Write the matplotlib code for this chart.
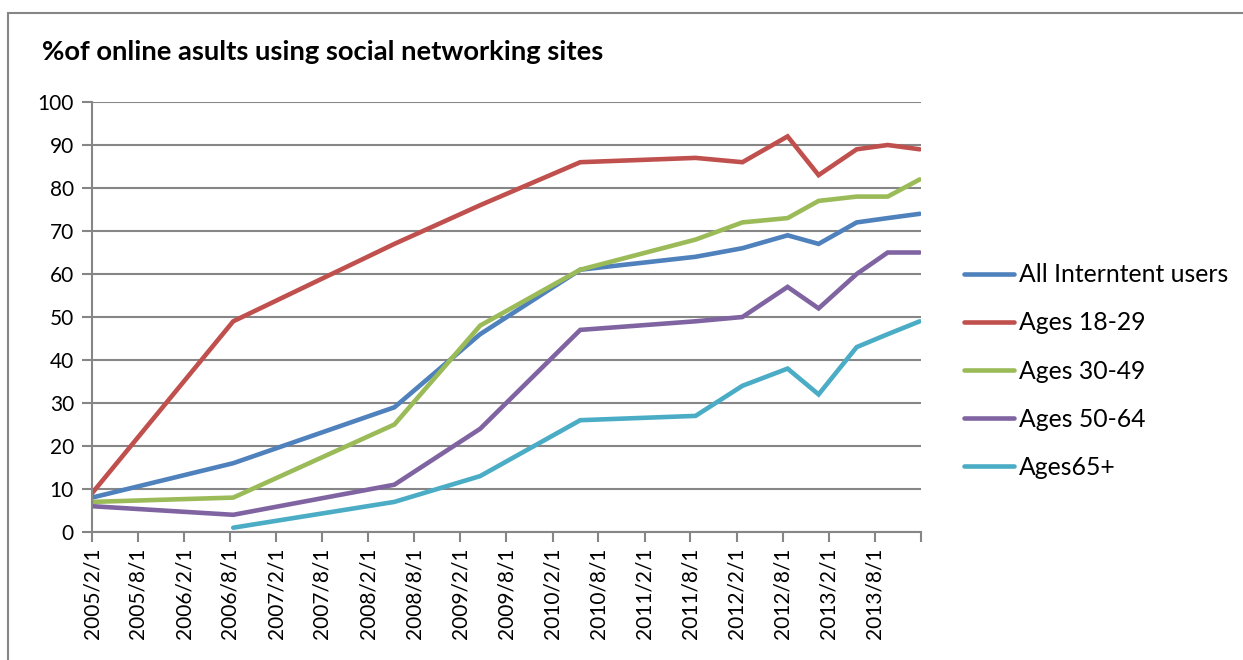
import matplotlib
matplotlib.use("Agg")
import matplotlib.pyplot as plt
import numpy as np
from datetime import date

plt.rcParams['font.family'] = ['Lato', 'DejaVu Sans']

# survey dates and shares (%) of online adults using social networking sites
dates = [date(2005, 2, 1), date(2006, 8, 15), date(2008, 5, 15), date(2009, 4, 20),
         date(2010, 5, 22), date(2011, 8, 22), date(2012, 2, 24), date(2012, 8, 21),
         date(2012, 12, 22), date(2013, 5, 22), date(2013, 9, 22), date(2014, 1, 27)]

all_users = [8, 16, 29, 46, 61, 64, 66, 69, 67, 72, 73, 74]
ages_18_29 = [9, 49, 67, 76, 86, 87, 86, 92, 83, 89, 90, 89]
ages_30_49 = [7, 8, 25, 48, 61, 68, 72, 73, 77, 78, 78, 82]
ages_50_64 = [6, 4, 11, 24, 47, 49, 50, 57, 52, 60, 65, 65]
ages_65 = [np.nan, 1, 7, 13, 26, 27, 34, 38, 32, 43, 46, 49]

series = [
    ("All Interntent users", all_users, "#4F81BD"),
    ("Ages 18-29", ages_18_29, "#C0504D"),
    ("Ages 30-49", ages_30_49, "#9BBB59"),
    ("Ages 50-64", ages_50_64, "#8064A2"),
    ("Ages65+", ages_65, "#4BACC6"),
]

tick_dates = [date(2005 + (m // 12), m % 12 + 1, 1) for m in range(1, 12 * 9 + 2, 6)]
tick_labels = [f"{d.year}/{d.month}/1" for d in tick_dates[:-1]] + [""]

W, H = 1243, 660
figure = plt.figure(figsize=(W / 100, H / 100), dpi=100)
axes = figure.add_axes([92 / W, 1 - 532 / H, (921 - 92) / W, (532 - 102) / H])

grey = "#868686"
lines = []
for name, values, color in series:
    line, = axes.plot(dates, values, color=color, linewidth=3.3,
                      solid_capstyle="round", solid_joinstyle="miter", label=name)
    lines.append(line)

axes.set_ylim(0, 100)
axes.set_yticks(np.arange(0, 101, 10))
axes.set_xlim(tick_dates[0], tick_dates[-1])
axes.set_xticks(tick_dates)
axes.set_xticklabels(tick_labels, rotation=90)

axes.grid(axis="y", color=grey, linewidth=1.5)
axes.set_axisbelow(True)
for side in ("top", "right"):
    axes.spines[side].set_visible(False)
for side in ("left", "bottom"):
    axes.spines[side].set_color(grey)
    axes.spines[side].set_linewidth(1.5)
axes.tick_params(axis="both", colors=grey, length=7, width=1.5, labelcolor="black",
                 labelsize=15)
axes.tick_params(axis="y", pad=6)
axes.tick_params(axis="x", pad=4)

figure.text(42 / W, 1 - 60 / H, "%of online asults using social networking sites",
            fontsize=19.7, fontweight="bold", va="baseline", ha="left")

axes.legend(lines, [s[0] for s in series], loc="upper left",
            bbox_to_anchor=(942 / W, 1 - 241 / H), bbox_transform=figure.transFigure,
            frameon=False, fontsize=17.8, handlelength=2.0, handletextpad=0.2,
            labelspacing=1.02, borderpad=0.4)

# outer chart border
figure.patches.append(plt.Rectangle((8 / W, -0.1), 1.2, 1 - 13 / H + 0.1,
                                    transform=figure.transFigure, fill=False,
                                    edgecolor=grey, linewidth=1.5))

figure.savefig("out.png", dpi=100)
